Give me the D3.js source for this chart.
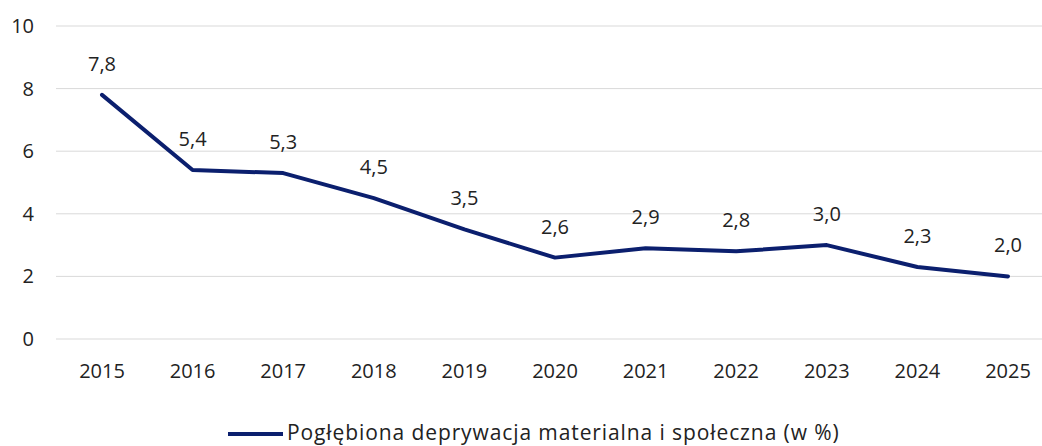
<!DOCTYPE html>
<html>
  <head>
    <script src="https://d3js.org/d3.v7.min.js"></script>
    <style>
      body { margin: 0; background: #fff; }
      svg { display: block; font-family: "Open Sans", "Noto Sans", sans-serif; }
    </style>
  </head>
  <body>
    <svg width="1042" height="446"></svg>
    <script>
      const years = ["2015", "2016", "2017", "2018", "2019", "2020", "2021", "2022", "2023", "2024", "2025"];
      const values = [7.8, 5.4, 5.3, 4.5, 3.5, 2.6, 2.9, 2.8, 3.0, 2.3, 2.0];
      const yTicks = [0, 2, 4, 6, 8, 10];
      const seriesName = "Pogłębiona deprywacja materialna i społeczna (w %)";

      const svg = d3.select("svg");
      const navy = "#0b1f6e";

      const x = d3.scalePoint().domain(years).range([102, 1008]);
      const y = d3.scaleLinear().domain([0, 10]).range([339, 26]);

      // gridlines
      svg.append("g")
        .selectAll("line")
        .data(yTicks)
        .join("line")
        .attr("x1", 56).attr("x2", 1042)
        .attr("y1", d => y(d)).attr("y2", d => y(d))
        .attr("stroke", "#d9d9d9")
        .attr("stroke-width", 1);

      // y labels
      svg.append("g")
        .selectAll("text")
        .data(yTicks)
        .join("text")
        .attr("x", 34).attr("y", d => y(d))
        .attr("dy", "0.35em")
        .attr("text-anchor", "end")
        .attr("font-size", 20)
        .attr("fill", "#222")
        .text(d => d);

      // x labels
      svg.append("g")
        .selectAll("text")
        .data(years)
        .join("text")
        .attr("x", d => x(d)).attr("y", 371)
        .attr("dy", "0.35em")
        .attr("text-anchor", "middle")
        .attr("font-size", 20)
        .attr("fill", "#222")
        .text(d => d);

      const line = d3.line()
        .x((d, i) => x(years[i]))
        .y(d => y(d));

      svg.append("path")
        .datum(values)
        .attr("d", line)
        .attr("fill", "none")
        .attr("stroke", navy)
        .attr("stroke-width", 4)
        .attr("stroke-linejoin", "round")
        .attr("stroke-linecap", "round");

      // data labels
      const fmt = v => d3.format(".1f")(v).replace(".", ",");
      svg.append("g")
        .selectAll("text")
        .data(values)
        .join("text")
        .attr("x", (d, i) => x(years[i]))
        .attr("y", d => y(d) - 31)
        .attr("dy", "0.35em")
        .attr("text-anchor", "middle")
        .attr("font-size", 20)
        .attr("fill", "#222")
        .text(d => fmt(d));

      // legend (sits at the very bottom edge, as in the source)
      const legend = svg.append("g");
      legend.append("line")
        .attr("x1", 228).attr("x2", 283)
        .attr("y1", 434).attr("y2", 434)
        .attr("stroke", navy)
        .attr("stroke-width", 4);
      legend.append("text")
        .attr("x", 287).attr("y", 440)
        .attr("font-size", 21)
        .attr("letter-spacing", 0.9)
        .attr("fill", "#222")
        .text(seriesName);
    </script>
  </body>
</html>
